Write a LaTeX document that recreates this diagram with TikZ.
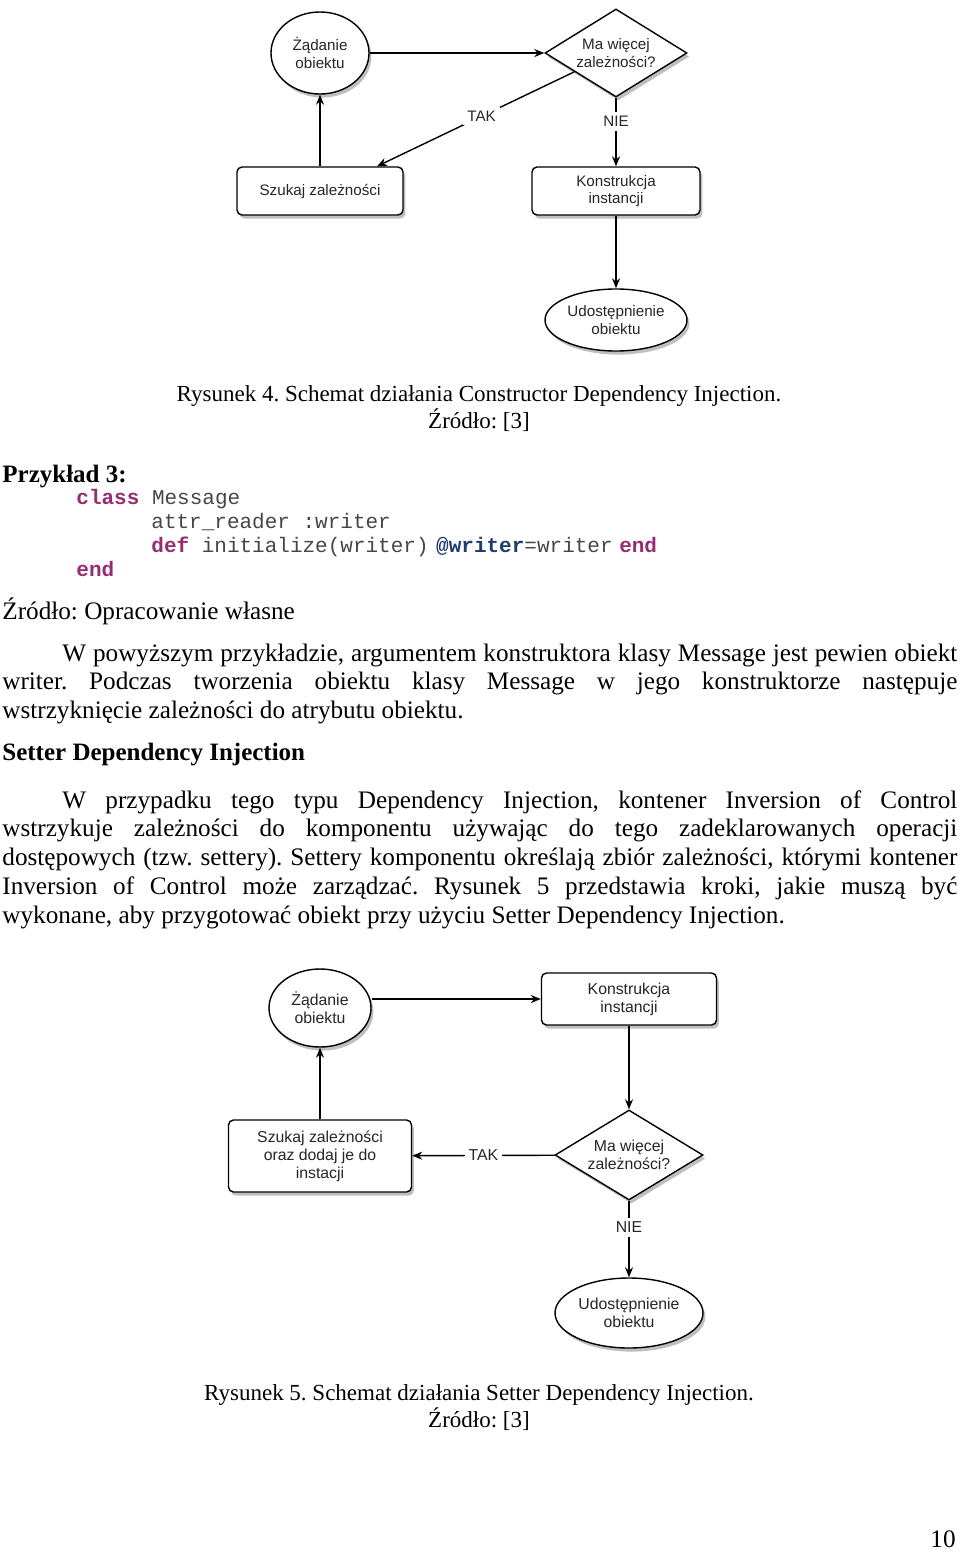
\documentclass[tikz,border=0pt]{standalone}
\usepackage{fontspec}
\setmainfont{Liberation Serif}
\setsansfont{Liberation Sans}
\setmonofont{Liberation Mono}
\usetikzlibrary{shapes.geometric,shadows,arrows.meta,calc}
\definecolor{kw}{RGB}{150,45,115}
\definecolor{atw}{RGB}{30,60,110}
\definecolor{codegray}{RGB}{70,70,70}
\frenchspacing
\newcommand{\dfont}{\sffamily\fontsize{7.6}{8.6}\selectfont\color{black!85}}
\newcommand{\dfontb}{\sffamily\fontsize{7.9}{9}\selectfont\color{black!85}}
\newcommand{\bodyfont}{\fontsize{12.6}{14.4}\selectfont}
\newcommand{\capfont}{\fontsize{11.5}{13.5}\selectfont}
\newcommand{\codefont}{\ttfamily\fontsize{10.5}{12}\selectfont\color{codegray}}
\newcommand{\kwd}[1]{\textcolor{kw}{\textbf{#1}}}
\begin{document}
\begin{tikzpicture}[x=0.5pt,y=-0.5pt,
  shd/.style={drop shadow={shadow xshift=1.2pt,shadow yshift=-1.8pt,opacity=0.25,fill=black}},
  ell/.style={ellipse,draw,line width=0.7pt,fill=white,inner sep=0pt,align=center,font=\dfont,shd},
  dia/.style={diamond,aspect=1.6,draw,line width=0.7pt,fill=white,inner sep=0pt,align=center,font=\dfont,shd},
  box/.style={rectangle,rounded corners=2.5pt,draw,line width=0.7pt,fill=white,inner sep=0pt,align=center,font=\dfont,shd},
  arr/.style={draw,line width=0.7pt,-{Stealth[length=5pt,width=4pt]}},
  lbl/.style={fill=white,inner sep=2pt,font=\dfont},
  big/.style={font=\dfontb},
  txt/.style={inner sep=0pt,font=\bodyfont},
  captxt/.style={inner sep=0pt,font=\capfont,anchor=base},
  para/.style={inner sep=0pt,font=\bodyfont,text width=477.5pt,align=justify,anchor=base west}
]
\useasboundingbox (0,0) rectangle (960,1553);

% ---------- Figure 4 ----------
\node[ell,minimum width=49pt,minimum height=41pt] (z1) at (320,53) {Żądanie\\obiektu};
\node[dia,minimum width=71pt,minimum height=44pt] (d1) at (616,53) {Ma więcej\\zależności?};
\node[box,minimum width=83pt,minimum height=24pt] (s1) at (320,191) {Szukaj zależności};
\node[box,minimum width=84pt,minimum height=24pt] (k1) at (616,191) {Konstrukcja\\instancji};
\node[ell,minimum width=71pt,minimum height=31pt] (u1) at (616,320) {Udostępnienie\\obiektu};
\coordinate (t1a) at ($(d1.west)!0.42!(d1.south)$);
\coordinate (t1b) at ($(s1.north)+(57,0)$);
\draw[arr] (z1) -- (d1);
\draw[arr] (t1a) -- node[lbl,pos=0.47]{TAK} (t1b);
\draw[arr] (d1) -- node[lbl,pos=0.35]{NIE} (k1);
\draw[arr] (s1) -- (z1);
\draw[arr] (k1) -- (u1);

\node[captxt] (c4a) at (479,401) {Rysunek 4. Schemat działania Constructor Dependency Injection.};
\node[captxt] (c4b) at (479,428) {Źródło: [3]};

% ---------- Example ----------
\node[txt,anchor=base west,font=\bfseries\fontsize{12.5}{14}\selectfont] (ex) at (2,482) {Przykład 3:};
\node[inner sep=0pt,anchor=base west,font=\codefont] (cl1) at (76,504) {\kwd{class} Message};
\node[inner sep=0pt,anchor=base west,font=\codefont] (cl2) at (151,528) {attr\_reader :writer};
\node[inner sep=0pt,anchor=base west,font=\codefont] (cl3) at (151,552) {\kwd{def} initialize(writer)\hspace{-2.5pt} \textcolor{atw}{\textbf{@writer}}=writer\hspace{-3pt} \kwd{end}};
\node[inner sep=0pt,anchor=base west,font=\codefont] (cl4) at (76,576) {\kwd{end}};
\node[txt,anchor=base west] (src) at (2,619) {Źródło: Opracowanie własne};

\node[para] (p1) at (2,661) {\hspace*{30pt}W powyższym przykładzie, argumentem konstruktora klasy Message jest pewien obiekt\linebreak writer. Podczas tworzenia obiektu klasy Message w jego konstruktorze następuje\linebreak wstrzyknięcie zależności do atrybutu obiektu.};

\node[txt,anchor=base west,font=\bfseries\fontsize{12.5}{14}\selectfont] (hd) at (2,760) {Setter Dependency Injection};

\node[para] (p2) at (2,808) {\hspace*{30pt}W przypadku tego typu Dependency Injection, kontener Inversion of Control\linebreak wstrzykuje zależności do komponentu używając do tego zadeklarowanych operacji\linebreak dostępowych (tzw. settery). Settery komponentu określają zbiór zależności, którymi kontener\linebreak Inversion of Control może zarządzać. Rysunek 5 przedstawia kroki, jakie muszą być\linebreak wykonane, aby przygotować obiekt przy użyciu Setter Dependency Injection.};

% ---------- Figure 5 ----------
\node[ell,big,minimum width=51pt,minimum height=39pt] (z2) at (320,1008) {Żądanie\\obiektu};
\node[box,big,minimum width=87.5pt,minimum height=26pt] (k2) at (629,999) {Konstrukcja\\instancji};
\node[box,big,minimum width=91.5pt,minimum height=36pt] (s2) at (320,1156) {Szukaj zależności\\oraz dodaj je do\\instacji};
\node[dia,big,minimum width=74pt,minimum height=45pt] (d2) at (629,1155) {Ma więcej\\zależności?};
\node[ell,big,minimum width=74pt,minimum height=35pt] (u2) at (629,1313) {Udostępnienie\\obiektu};
\draw[arr] (z2.east |- k2.west) -- (k2.west);
\draw[arr] (k2) -- (d2);
\draw[arr] (d2) -- node[lbl,big]{TAK} (s2);
\draw[arr] (s2) -- (z2);
\draw[arr] (d2) -- node[lbl,big,pos=0.35]{NIE} (u2);

\node[captxt] (c5a) at (479,1400) {Rysunek 5. Schemat działania Setter Dependency Injection.};
\node[captxt] (c5b) at (479,1427) {Źródło: [3]};

\node[txt,anchor=base east] (pg) at (956,1547) {10};
\end{tikzpicture}
\end{document}
